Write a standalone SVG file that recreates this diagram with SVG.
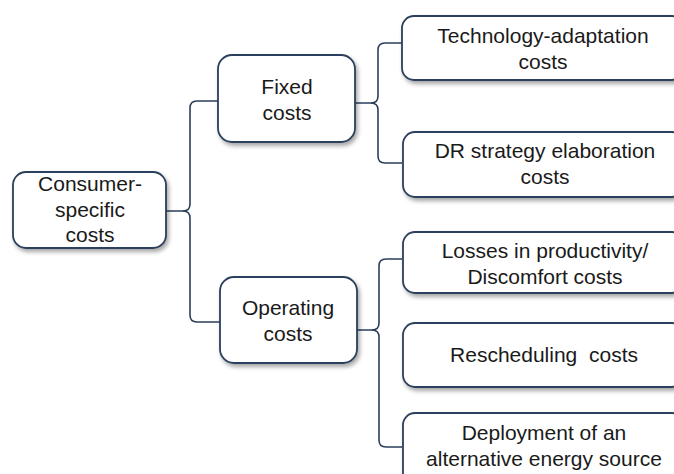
<svg xmlns="http://www.w3.org/2000/svg" width="674" height="474" viewBox="0 0 674 474">
<style>
.box{fill:#fff;stroke:#2b3f5c;stroke-width:1.8;filter:url(#sh)}
.t{font-family:"Liberation Sans",Arial,sans-serif;font-size:21px;fill:#1a1a1a;text-anchor:middle}
.c{fill:none;stroke:#2b3f5c;stroke-width:1.6}
</style>
<defs>
<filter id="sh" x="-10%" y="-10%" width="130%" height="140%">
<feDropShadow dx="2" dy="3" stdDeviation="2" flood-color="#000" flood-opacity="0.35"/>
</filter>
</defs>
<rect width="674" height="474" fill="#fff"/>
<g id="connectors">
<path class="c" d="M166,211 H183 Q190,211 190,204 V108 Q190,101 197,101 H218"/>
<path class="c" d="M183,211 Q190,211 190,218 V315 Q190,322 197,322 H220"/>
<path class="c" d="M355,103 H371 Q378,103 378,96 V50 Q378,43 385,43 H402"/>
<path class="c" d="M371,103 Q378,103 378,110 V156 Q378,163 385,163 H402"/>
<path class="c" d="M357,330 H372 Q379,330 379,323 V266 Q379,259 386,259 H402"/>
<path class="c" d="M372,330 Q379,330 379,337 V440 Q379,447 386,447 H402"/>
</g>
<g id="consumer">
<rect class="box" x="13" y="172" width="153" height="76" rx="13"/>
<text class="t" x="90" y="191">Consumer-</text>
<text class="t" x="90" y="217">specific</text>
<text class="t" x="90" y="242">costs</text>
</g>
<g id="fixed">
<rect class="box" x="218" y="55" width="137" height="87" rx="14"/>
<text class="t" x="287" y="94">Fixed</text>
<text class="t" x="287" y="120">costs</text>
</g>
<g id="operating">
<rect class="box" x="220" y="277" width="137" height="86" rx="14"/>
<text class="t" x="288" y="315">Operating</text>
<text class="t" x="288" y="341">costs</text>
</g>
<g id="tech">
<rect class="box" x="402" y="16" width="282" height="64" rx="12"/>
<text class="t" x="543" y="43">Technology-adaptation</text>
<text class="t" x="543" y="69">costs</text>
</g>
<g id="dr">
<rect class="box" x="403" y="132" width="281" height="65" rx="12"/>
<text class="t" x="545" y="158">DR strategy elaboration</text>
<text class="t" x="545" y="184">costs</text>
</g>
<g id="losses">
<rect class="box" x="403" y="232" width="281" height="61" rx="12"/>
<text class="t" x="545" y="258">Losses in productivity/</text>
<text class="t" x="545" y="284">Discomfort costs</text>
</g>
<g id="rescheduling">
<rect class="box" x="403" y="323" width="281" height="64" rx="12"/>
<text class="t" x="544" y="362" xml:space="preserve" style="white-space:pre">Rescheduling  costs</text>
</g>
<g id="deployment">
<rect class="box" x="403" y="413" width="281" height="75" rx="12"/>
<text class="t" x="544" y="440">Deployment of an</text>
<text class="t" x="544" y="466">alternative energy source</text>
</g>
</svg>
